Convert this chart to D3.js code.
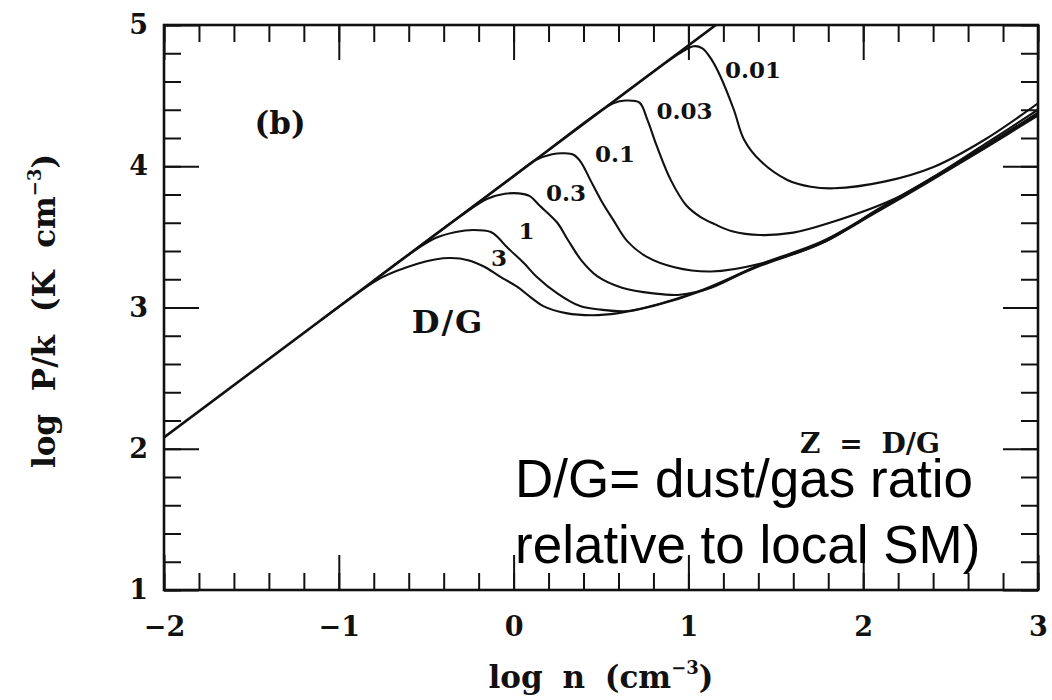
<!DOCTYPE html>
<html>
<head>
<meta charset="utf-8">
<script src="https://cdn.jsdelivr.net/npm/d3@7"></script>
<style>
  body { margin: 0; background: #fff; }
  svg { display: block; }
</style>
</head>
<body>
<div id="chart-area"></div>
<script>
const width = 1052;
const height = 700;

// axis ticks
const xMajor = [-2, -1, 0, 1, 2, 3];
const yMajor = [1, 2, 3, 4, 5];

// upper straight branch (log n, log P/k)
const envelope = [[-2, 2.08], [1.2, 5.04]];

// D/G values and curves: [log n, log P/k]
const dgLabels = ['0.01', '0.03', '0.1', '0.3', '1', '3'];

const curve001 = [[0.6, 4.485], [0.85, 4.715], [0.95, 4.8], [1.03, 4.85], [1.08, 4.835],
  [1.13, 4.76], [1.184, 4.634], [1.26, 4.4], [1.318, 4.19], [1.41, 4.04], [1.566, 3.903],
  [1.7, 3.855], [1.833, 3.844], [2.12, 3.891], [2.406, 3.997], [2.692, 4.186], [3.0, 4.446]];

const curve003 = [[0.2, 4.115], [0.45, 4.35], [0.57, 4.445], [0.64, 4.465], [0.72, 4.45],
  [0.765, 4.33], [0.82, 4.14], [0.9, 3.9], [0.99, 3.72], [1.07, 3.64], [1.15, 3.59],
  [1.25, 3.54], [1.41, 3.513], [1.6, 3.53], [1.8, 3.596], [2.18, 3.77], [2.41, 3.93],
  [2.7, 4.16], [3.0, 4.4]];

const curve01 = [[-0.3, 3.653], [0.0, 3.93], [0.12, 4.04], [0.22, 4.085], [0.29, 4.092],
  [0.345, 4.08], [0.385, 4.03], [0.44, 3.9], [0.5, 3.76], [0.57, 3.62], [0.65, 3.47],
  [0.76, 3.36], [0.92, 3.285], [1.13, 3.255], [1.41, 3.31], [1.79, 3.47], [2.07, 3.685],
  [2.39, 3.915], [2.7, 4.145], [3.0, 4.38]];

const curve03 = [[-0.6, 3.375], [-0.3, 3.65], [-0.15, 3.77], [-0.05, 3.805], [0.03, 3.808],
  [0.09, 3.79], [0.15, 3.72], [0.25, 3.6], [0.31, 3.48], [0.39, 3.33], [0.48, 3.22],
  [0.62, 3.14], [0.8, 3.1], [0.95, 3.09], [1.13, 3.14], [1.4, 3.3], [1.76, 3.465],
  [2.07, 3.68], [2.39, 3.91], [2.7, 4.14], [3.0, 4.37]];

const curve1 = [[-0.8, 3.19], [-0.6, 3.375], [-0.45, 3.49], [-0.33, 3.535], [-0.23, 3.549],
  [-0.13, 3.535], [-0.085, 3.49], [-0.04, 3.43], [0.06, 3.313], [0.13, 3.22], [0.25, 3.1],
  [0.38, 3.01], [0.5, 2.985], [0.65, 2.975], [0.9, 3.05], [1.09, 3.13], [1.4, 3.295],
  [1.76, 3.46], [2.07, 3.675], [2.39, 3.905], [2.7, 4.135], [3.0, 4.365]];

const curve3 = [[-1.1, 2.913], [-0.9, 3.095], [-0.75, 3.215], [-0.55, 3.31], [-0.45, 3.34],
  [-0.36, 3.35], [-0.26, 3.335], [-0.17, 3.29], [-0.08, 3.22], [0.02, 3.147], [0.1, 3.07],
  [0.17, 3.01], [0.3, 2.96], [0.45, 2.945], [0.6, 2.96], [0.8, 3.01], [1.09, 3.124],
  [1.4, 3.29], [1.76, 3.455], [2.07, 3.67], [2.39, 3.9], [2.7, 4.13], [3.0, 4.36]];

const curves = [curve001, curve003, curve01, curve03, curve1, curve3];

// where the D/G labels sit (data coords)
const labelX = [1.37, 0.978, 0.58, 0.3, 0.074, -0.084];
const labelY = [4.681, 4.391, 4.087, 3.814, 3.542, 3.35];

const x = d3.scaleLinear().domain([-2, 3]).range([164, 1038]);
const y = d3.scaleLinear().domain([1, 5]).range([590, 25]);

const serif = "'DejaVu Serif', serif";

const svg = d3
  .select('#chart-area')
  .append('svg')
  .attr('width', width)
  .attr('height', height)
  .attr('viewBox', [0, 0, width, height]);

svg.append('rect').attr('width', width).attr('height', height).attr('fill', '#fff');

svg
  .append('clipPath')
  .attr('id', 'plot-clip')
  .append('rect')
  .attr('x', x(-2))
  .attr('y', y(5))
  .attr('width', x(3) - x(-2))
  .attr('height', y(1) - y(5));

// ticks, all pointing inward
function tickAxis(axis, translate, size, values, labels) {
  const g = svg
    .append('g')
    .attr('transform', translate)
    .call(axis.tickSize(size).tickSizeOuter(0));
  if (values) axis.tickValues(values);
  g.call(axis);
  g.select('.domain').remove();
  g.selectAll('.tick line').attr('stroke', '#111').attr('stroke-width', 2);
  if (!labels) g.selectAll('.tick text').remove();
  return g;
}

const minorX = x.ticks(25);
const minorY = y.ticks(20);

tickAxis(d3.axisBottom(x).tickFormat(''), `translate(0,${y(1)})`, -17, minorX, false);
tickAxis(d3.axisTop(x).tickFormat(''), `translate(0,${y(5)})`, -17, minorX, false);
tickAxis(d3.axisLeft(y).tickFormat(''), `translate(${x(-2)},0)`, -17, minorY, false);
tickAxis(d3.axisRight(y).tickFormat(''), `translate(${x(3)},0)`, -17, minorY, false);

const xAxis = tickAxis(
  d3.axisBottom(x).tickPadding(27).tickFormat(d3.format('d')),
  `translate(0,${y(1)})`, -35, xMajor, true
);
tickAxis(d3.axisTop(x), `translate(0,${y(5)})`, -35, xMajor, false);
const yAxis = tickAxis(
  d3.axisLeft(y).tickPadding(16).tickFormat(d3.format('d')),
  `translate(${x(-2)},0)`, -35, yMajor, true
);
tickAxis(d3.axisRight(y), `translate(${x(3)},0)`, -35, yMajor, false);

[xAxis, yAxis].forEach((g) =>
  g
    .selectAll('.tick text')
    .attr('fill', '#111')
    .style('font-family', serif)
    .style('font-weight', 'bold')
    .style('font-size', '27px')
);

// frame
svg
  .append('rect')
  .attr('x', x(-2))
  .attr('y', y(5))
  .attr('width', x(3) - x(-2))
  .attr('height', y(1) - y(5))
  .attr('fill', 'none')
  .attr('stroke', '#111')
  .attr('stroke-width', 2.6);

const line = d3
  .line()
  .x((d) => x(d[0]))
  .y((d) => y(d[1]))
  .curve(d3.curveCatmullRom.alpha(0.5));

const plot = svg.append('g').attr('clip-path', 'url(#plot-clip)');

plot
  .append('path')
  .datum(envelope)
  .attr('d', line)
  .attr('fill', 'none')
  .attr('stroke', '#111')
  .attr('stroke-width', 2.6);

plot
  .selectAll('path.dg')
  .data(curves)
  .join('path')
  .attr('class', 'dg')
  .attr('d', line)
  .attr('fill', 'none')
  .attr('stroke', '#111')
  .attr('stroke-width', 2.1);

// D/G value labels
svg
  .selectAll('text.dg-label')
  .data(dgLabels)
  .join('text')
  .attr('class', 'dg-label')
  .attr('x', (d, i) => x(labelX[i]))
  .attr('y', (d, i) => y(labelY[i]))
  .attr('dy', '0.36em')
  .attr('text-anchor', 'middle')
  .attr('fill', '#111')
  .style('font-family', serif)
  .style('font-weight', 'bold')
  .style('font-size', '23px')
  .text((d) => d);

// other figure text
function serifText(tx, ty, size, str) {
  return svg
    .append('text')
    .attr('x', x(tx))
    .attr('y', y(ty))
    .attr('dy', '0.36em')
    .attr('text-anchor', 'middle')
    .attr('fill', '#111')
    .style('font-family', serif)
    .style('font-weight', 'bold')
    .style('font-size', size + 'px')
    .text(str);
}

serifText(-1.336, 4.306, 31, '(b)');
serifText(-0.375, 2.904, 32, 'D/G').style('letter-spacing', '2px');
serifText(2.039, 2.04, 28, 'Z = D/G').style('word-spacing', '9px');

// axis titles
const xTitle = svg
  .append('text')
  .attr('x', 601)
  .attr('y', 688)
  .attr('text-anchor', 'middle')
  .attr('fill', '#111')
  .style('font-family', serif)
  .style('font-weight', 'bold')
  .style('font-size', '31px')
  .style('word-spacing', '9px');
xTitle.append('tspan').text('log n (cm');
xTitle.append('tspan').attr('dy', -14).style('font-size', '18px').text('−3');
xTitle.append('tspan').attr('dy', 14).text(')');

const yTitle = svg
  .append('text')
  .attr('transform', 'translate(55,311) rotate(-90)')
  .attr('text-anchor', 'middle')
  .attr('fill', '#111')
  .style('font-family', serif)
  .style('font-weight', 'bold')
  .style('font-size', '31px')
  .style('word-spacing', '12px');
yTitle.append('tspan').text('log P/k (K cm');
yTitle.append('tspan').attr('dy', -14).style('font-size', '18px').text('−3');
yTitle.append('tspan').attr('dy', 14).text(')');

// overlay note
const note = svg
  .append('text')
  .attr('fill', '#000')
  .style('font-family', "'Liberation Sans', Arial, sans-serif")
  .style('font-size', '53px');
note.append('tspan').attr('x', 515).attr('y', 497).text('D/G= dust/gas ratio');
note.append('tspan').attr('x', 515).attr('y', 563).text('relative to local SM)');
</script>
</body>
</html>
